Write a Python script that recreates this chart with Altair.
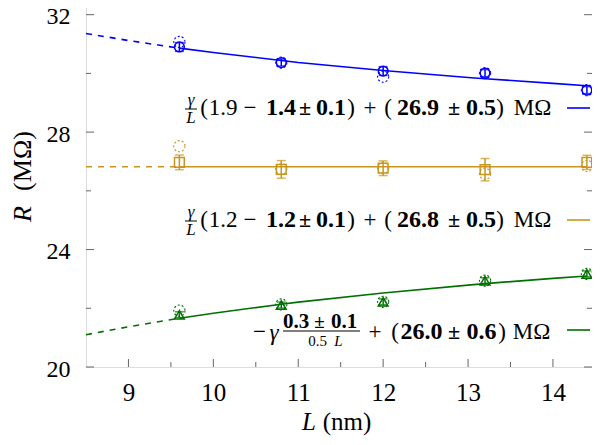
import altair as alt
import pandas as pd

# ---------------- data ----------------
L_nm = [9.6, 10.8, 12.0, 13.2, 14.4]
series_names = ["blue", "gold", "green"]
colors = ["#0000ff", "#c8961e", "#007000"]
shapes = ["circle", "square", "triangle-up"]

R_blue = [30.90, 30.37, 30.08, 30.01, 29.43]
E_blue = [0.15, 0.12, 0.15, 0.12, 0.12]
D_blue = [31.07, 30.37, 29.89, 30.01, 29.43]

R_gold = [26.97, 26.73, 26.77, 26.72, 26.97]
E_gold = [0.25, 0.30, 0.25, 0.38, 0.24]
D_gold = [27.52, 26.75, 26.77, 26.58, 26.85]

R_green = [21.78, 22.11, 22.22, 22.94, 23.17]
E_green = [0.10, 0.10, 0.10, 0.10, 0.10]
D_green = [21.92, 22.13, 22.22, 22.94, 23.17]

fit_L = [8.5, 9.0, 9.6, 10.0, 10.8, 11.0, 12.0, 13.0, 13.2, 14.0, 14.4]
fit_blue = [31.36, 31.12, 30.86, 30.71, 30.44, 30.37, 30.10, 29.86, 29.82, 29.66, 29.58]
fit_gold = [26.82, 26.82, 26.82, 26.82, 26.82, 26.82, 26.82, 26.82, 26.82, 26.82, 26.82]
fit_green = [21.10, 21.37, 21.66, 21.83, 22.14, 22.21, 22.52, 22.79, 22.84, 23.02, 23.10]

x_ticks_major = [9, 10, 11, 12, 13, 14]
x_ticks_minor = [9.5, 10.5, 11.5, 12.5, 13.5]
y_ticks_major = [20, 24, 28, 32]
y_ticks_minor = [22, 26, 30]

# ---------------- tables ----------------
rows = []
for s, Rv, Ev, Dv in zip(series_names, [R_blue, R_gold, R_green],
                         [E_blue, E_gold, E_green], [D_blue, D_gold, D_green]):
    for l, r, e, d in zip(L_nm, Rv, Ev, Dv):
        rows.append(dict(s=s, L=l, R=r, lo=r - e, hi=r + e, D=d))
pts = pd.DataFrame(rows)

fit_rows = []
for s, vals in zip(series_names, [fit_blue, fit_gold, fit_green]):
    for l, r in zip(fit_L, vals):
        fit_rows.append(dict(s=s, L=l, R=r))
fit = pd.DataFrame(fit_rows)

W, H = 506, 367
FONT = "Liberation Serif, Times New Roman, serif"

xs = alt.Scale(domain=[8.5, 14.46], nice=False, zero=False)
ys = alt.Scale(domain=[20, 32.5], nice=False, zero=False)
xaxis = alt.Axis(values=x_ticks_major, title=None, ticks=False, domain=False, grid=False,
                 labelFont=FONT, labelFontSize=25, labelColor="#000", labelPadding=13, format="d")
yaxis = alt.Axis(values=y_ticks_major, title=None, ticks=False, domain=False, grid=False,
                 labelFont=FONT, labelFontSize=24, labelColor="#000", labelPadding=16, labelOffset=2,
                 format="d")
col = alt.Color("s:N", scale=alt.Scale(domain=series_names, range=colors), legend=None)
shp = alt.Shape("s:N", scale=alt.Scale(domain=series_names, range=shapes), legend=None)

def XQ(f):
    return alt.X(f, scale=xs, axis=xaxis, title=None)
def YQ(f):
    return alt.Y(f, scale=ys, axis=yaxis, title=None)

fit_solid = alt.Chart(fit).transform_filter("datum.L >= 9.6").mark_line(strokeWidth=1.6).encode(
    x=XQ("L:Q"), y=YQ("R:Q"), color=col, detail="s:N")
fit_dash = alt.Chart(fit).transform_filter("datum.L <= 9.6").mark_line(strokeWidth=1.6, strokeDash=[6, 6]).encode(
    x=XQ("L:Q"), y=YQ("R:Q"), color=col, detail="s:N")

err = alt.Chart(pts).mark_rule(strokeWidth=1.5).encode(x=XQ("L:Q"), y=YQ("lo:Q"), y2="hi:Q", color=col)
cap_lo = alt.Chart(pts).mark_tick(orient="horizontal", size=9, thickness=1.5).encode(
    x=XQ("L:Q"), y=YQ("lo:Q"), color=col)
cap_hi = alt.Chart(pts).mark_tick(orient="horizontal", size=9, thickness=1.5).encode(
    x=XQ("L:Q"), y=YQ("hi:Q"), color=col)
marks = alt.Chart(pts).mark_point(filled=False, size=95, strokeWidth=1.5, opacity=1).encode(
    x=XQ("L:Q"), y=YQ("R:Q"), color=col, shape=shp)
dashed = alt.Chart(pts).mark_point(filled=False, shape="circle", size=125, strokeWidth=1.1,
                                   strokeDash=[2, 2], opacity=1).encode(
    x=XQ("L:Q"), y=YQ("D:Q"), color=col)

# ---------------- ticks (inward) ----------------
tick_color = "#666666"
def xtick(vals, length, y0):
    return alt.Chart(pd.DataFrame({"v": vals})).mark_rule(color=tick_color, strokeWidth=1).encode(
        x=XQ("v:Q"), y=alt.value(y0), y2=alt.value(y0 - length))
def ytick(vals, length, x0, sign):
    return alt.Chart(pd.DataFrame({"v": vals})).mark_rule(color=tick_color, strokeWidth=1).encode(
        y=YQ("v:Q"), x=alt.value(x0), x2=alt.value(x0 + sign * length))

ticks = [xtick(x_ticks_major, 8, H), xtick(x_ticks_minor, 5, H),
         ytick(y_ticks_major, 8, 0, 1), ytick(y_ticks_minor, 5, 0, 1),
         ytick(y_ticks_major, 8, W, -1), ytick(y_ticks_minor, 5, W, -1)]

# ---------------- legend text (pixel layout) ----------------
legend_tokens = [
    # text, style, x, y, size
    ("γ", "it", 105, 100, 17), ("L", "it", 105, 118, 17),
    ("(", "rm", 118, 108, 23), ("1.9", "rm", 137, 108, 23), ("−", "rm", 164, 108, 23),
    ("1.4", "bf", 195, 108, 24), ("±", "bf", 219, 108, 22), ("0.1", "bf", 245, 108, 24),
    (")", "rm", 265, 108, 23), ("+", "rm", 284, 108, 23), ("(", "rm", 302, 108, 23),
    ("26.9", "bf", 332, 108, 24), ("±", "bf", 368, 108, 22), ("0.5", "bf", 395, 108, 24),
    (")", "rm", 414, 108, 23), ("MΩ", "rm", 446.5, 108, 23),

    ("γ", "it", 105, 212, 17), ("L", "it", 105, 230, 17),
    ("(", "rm", 118, 220, 23), ("1.2", "rm", 137, 220, 23), ("−", "rm", 164, 220, 23),
    ("1.2", "bf", 195, 220, 24), ("±", "bf", 219, 220, 22), ("0.1", "bf", 245, 220, 24),
    (")", "rm", 265, 220, 23), ("+", "rm", 284, 220, 23), ("(", "rm", 302, 220, 23),
    ("26.8", "bf", 332, 220, 24), ("±", "bf", 368, 220, 22), ("0.5", "bf", 395, 220, 24),
    (")", "rm", 414, 220, 23), ("MΩ", "rm", 446.5, 220, 23),

    ("−", "rm", 173.5, 332, 23), ("γ", "it", 188, 333, 23),
    ("0.3", "bf", 210, 322, 21), ("±", "bf", 233.5, 322, 19), ("0.1", "bf", 258, 322, 21),
    ("0.5", "rm", 231.5, 341, 15), ("L", "it", 252.5, 341, 15),
    ("+", "rm", 289, 332, 23), ("(", "rm", 309, 332, 23),
    ("26.0", "bf", 335.5, 332, 24), ("±", "bf", 368, 332, 22), ("0.6", "bf", 395.5, 332, 24),
    (")", "rm", 416, 332, 23), ("MΩ", "rm", 445.5, 332, 23),

    ("L", "it", 223, 422, 25), ("(nm)", "rm", 261, 422, 25),
]
tok = pd.DataFrame([dict(t=t, st=st, px=x, py=y, fs=fs) for (t, st, x, y, fs) in legend_tokens])

def text_layer(style, **kw):
    return alt.Chart(tok).transform_filter(f"datum.st == '{style}'").mark_text(
        font=FONT, baseline="middle", align="center", color="#000", **kw).encode(
        x=alt.X("px:Q", scale=None, axis=None), y=alt.Y("py:Q", scale=None, axis=None), text="t:N",
        size=alt.Size("fs:Q", scale=None, legend=None))

texts = [text_layer("rm"), text_layer("bf", fontWeight="bold"), text_layer("it", fontStyle="italic")]

y_title = [("R", "it", -63, 214, 26), ("(MΩ)", "rm", -63, 161, 26)]
ytt = pd.DataFrame([dict(t=t, st=st, px=x, py=y, fs=fs) for t, st, x, y, fs in y_title])
def ytitle_layer(style, **kw):
    return alt.Chart(ytt).transform_filter(f"datum.st == '{style}'").mark_text(
        font=FONT, baseline="middle", align="center", angle=270, color="#000", **kw).encode(
        x=alt.X("px:Q", scale=None, axis=None), y=alt.Y("py:Q", scale=None, axis=None), text="t:N",
        size=alt.Size("fs:Q", scale=None, legend=None))
ytitles = [ytitle_layer("rm"), ytitle_layer("it", fontStyle="italic")]

# fraction bars and legend line samples
bars = pd.DataFrame({"x1": [99, 99, 197], "x2": [111, 111, 274], "y": [109, 221, 331]})
frac = alt.Chart(bars).mark_rule(color="#000", strokeWidth=1).encode(
    x=alt.X("x1:Q", scale=None, axis=None), x2="x2:Q", y=alt.Y("y:Q", scale=None, axis=None))
samples = pd.DataFrame({"x1": [481] * 3, "x2": [504] * 3, "y": [108, 220, 330], "s": series_names})
samp = alt.Chart(samples).mark_rule(strokeWidth=1.6).encode(
    x=alt.X("x1:Q", scale=None, axis=None), x2="x2:Q", y=alt.Y("y:Q", scale=None, axis=None), color=col)

chart = alt.layer(
    fit_solid, fit_dash, err, cap_lo, cap_hi, marks, dashed, *ticks, *texts, *ytitles, frac, samp
).properties(
    width=W, height=H,
    autosize=alt.AutoSizeParams(type="none"),
    padding={"left": 78, "top": -8, "right": 0, "bottom": 70},
).configure_view(stroke="#333333", strokeWidth=1.3).configure(background="white")

chart.save("out.html", embed_options={"renderer": "svg", "actions": False})
